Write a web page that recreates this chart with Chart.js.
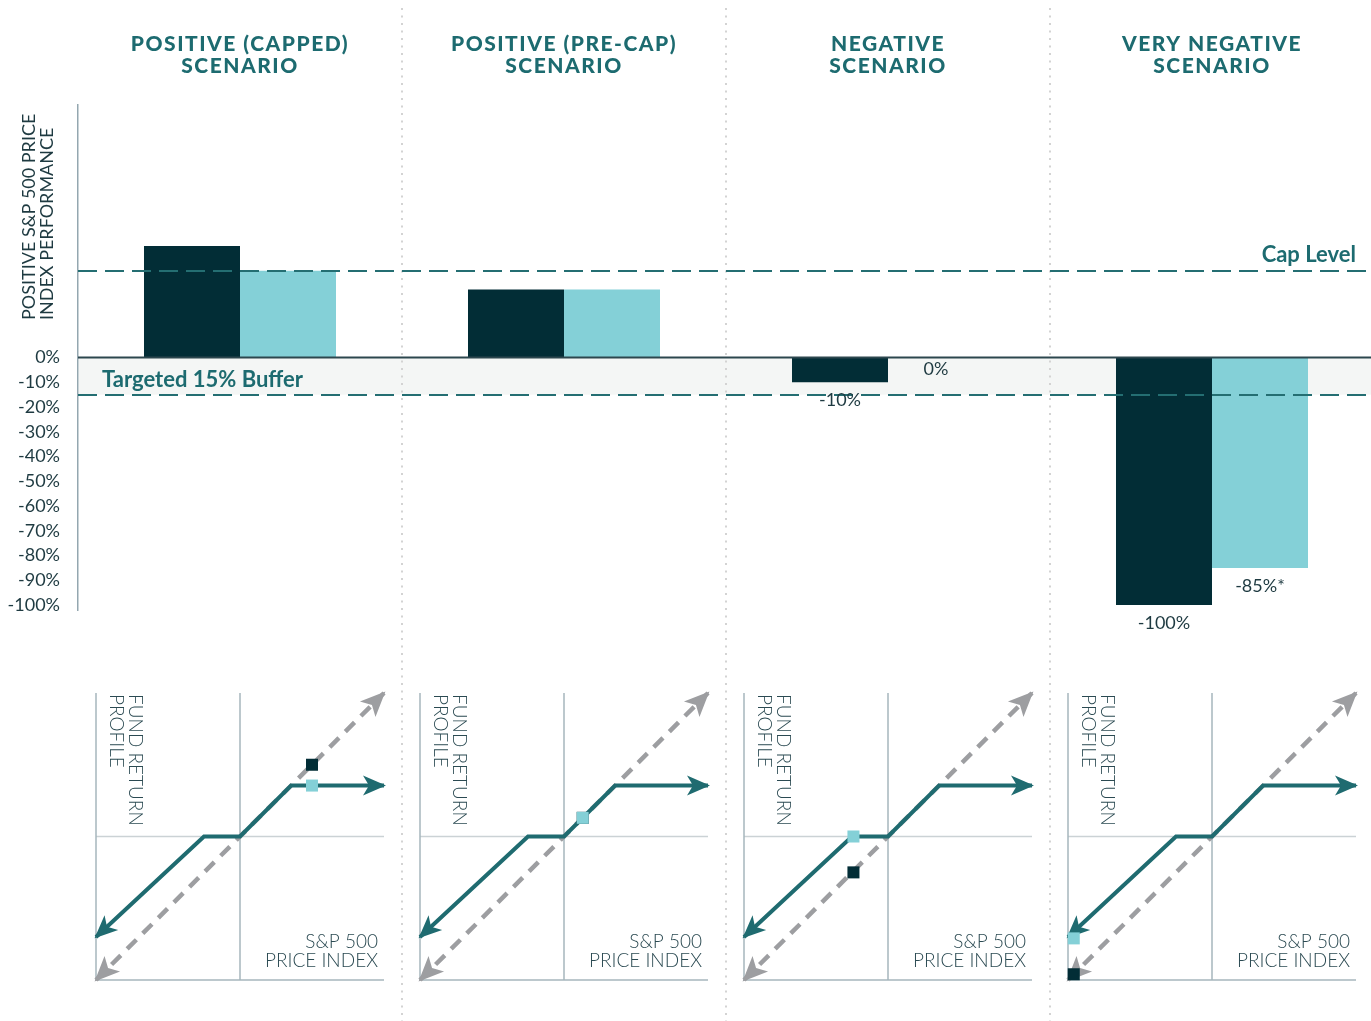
<!DOCTYPE html>
<html>
<head>
<meta charset="utf-8">
<title>Buffer scenarios</title>
<script src="https://cdn.jsdelivr.net/npm/chart.js@4.4.1/dist/chart.umd.min.js"></script>
<style>
    html, body { margin: 0; padding: 0; background: #fff; overflow: hidden; }
    #wrap { position: relative; width: 1371px; height: 1021px; overflow: hidden; }
    #scenario_chart { position: absolute; left: 0; top: 0; }
    .profile { position: absolute; top: 673px; }
</style>
</head>
<body>
<div id="wrap">
    <canvas id="scenario_chart" width="1375" height="1021"></canvas>
    <canvas class="profile" id="profile_0" width="328" height="327"></canvas>
    <canvas class="profile" id="profile_1" width="328" height="327"></canvas>
    <canvas class="profile" id="profile_2" width="328" height="327"></canvas>
    <canvas class="profile" id="profile_3" width="328" height="327"></canvas>
</div>
<script>
// top chart data
const scenarios = [
    ['POSITIVE (CAPPED)', 'SCENARIO'],
    ['POSITIVE (PRE-CAP)', 'SCENARIO'],
    ['NEGATIVE', 'SCENARIO'],
    ['VERY NEGATIVE', 'SCENARIO']
];
const indexReturn = [45, 27.5, -10, -100];
const fundReturn = [35, 27.5, 0, -85];
const indexLabels = ['', '', '-10%', '-100%'];
const fundLabels = ['', '', '0%', '-85%*'];
const yTicks = [0, -10, -20, -30, -40, -50, -60, -70, -80, -90, -100];
const capLevel = 35;
const bufferLevel = -15;

// bottom profile data (index move on x, fund result on y)
const indexLine = [{x: -1, y: -1}, {x: 1, y: 1}];
const fundLine = [{x: -1, y: -0.7}, {x: -0.25, y: 0}, {x: 0, y: 0}, {x: 0.355, y: 0.355}, {x: 1, y: 0.355}];
const indexPoints = [{x: 0.5, y: 0.5}, {x: 0.13, y: 0.13}, {x: -0.24, y: -0.25}, {x: -0.96, y: -0.96}];
const fundPoints = [{x: 0.5, y: 0.355}, {x: 0.13, y: 0.13}, {x: -0.24, y: 0}, {x: -0.96, y: -0.71}];

const DARK = '#022d36';
const LIGHT = '#84d0d7';
const TEAL = '#1d6b70';
const TEXT = '#1e3a41';

window.onload = function(){

    // decorations of the scenario chart
    const scenarioDecor = {
        id: 'scenarioDecor',
        beforeDatasetsDraw(chart) {
            const {ctx, chartArea, scales: {x, y}} = chart;
            const y0 = y.getPixelForValue(0);
            const yb = y.getPixelForValue(bufferLevel);
            ctx.save();
            ctx.fillStyle = '#f4f6f5';
            ctx.fillRect(chartArea.left + 1, y0, chartArea.right - chartArea.left, yb - y0);

            // dotted separators between scenarios
            ctx.strokeStyle = '#d3d3d3';
            ctx.lineWidth = 2;
            ctx.setLineDash([2, 5.5]);
            for (let i = 1; i < chart.data.labels.length; i++) {
                const sx = Math.round((x.getPixelForValue(i - 1) + x.getPixelForValue(i)) / 2);
                ctx.beginPath();
                ctx.moveTo(sx, 8);
                ctx.lineTo(sx, 1021);
                ctx.stroke();
            }
            ctx.restore();
        },
        afterDatasetsDraw(chart) {
            const {ctx, chartArea, scales: {x, y}} = chart;
            const y0 = y.getPixelForValue(0);
            ctx.save();

            // zero line
            ctx.strokeStyle = '#2c474e';
            ctx.lineWidth = 2;
            ctx.beginPath();
            ctx.moveTo(chartArea.left, y0);
            ctx.lineTo(chartArea.right, y0);
            ctx.stroke();

            // cap and buffer lines
            ctx.strokeStyle = '#246e72';
            ctx.lineWidth = 2;
            ctx.setLineDash([19, 8]);
            [capLevel, bufferLevel].forEach(function(v){
                const py = Math.round(y.getPixelForValue(v));
                ctx.beginPath();
                ctx.moveTo(chartArea.left, py);
                ctx.lineTo(chartArea.right, py);
                ctx.stroke();
            });
            ctx.setLineDash([]);

            ctx.fillStyle = TEAL;
            ctx.font = 'bold 22px Lato';
            ctx.textBaseline = 'alphabetic';
            ctx.textAlign = 'right';
            ctx.fillText('Cap Level', 1356, y.getPixelForValue(capLevel) - 9);
            ctx.textAlign = 'left';
            ctx.fillText('Targeted 15% Buffer', 102, y0 + 29);

            // value labels under the bars
            ctx.fillStyle = TEXT;
            ctx.font = '18px Lato';
            ctx.textAlign = 'center';
            ctx.textBaseline = 'middle';
            chart.data.datasets.forEach(function(ds, d){
                chart.getDatasetMeta(d).data.forEach(function(bar, i){
                    const txt = ds.valueLabels[i];
                    if (!txt) return;
                    const off = ds.data[i] === 0 ? 12 : 18;
                    ctx.fillText(txt, bar.x, bar.y + off);
                });
            });

            // scenario titles
            ctx.fillStyle = TEAL;
            ctx.font = '900 21px Lato';
            ctx.letterSpacing = '1.5px';
            ctx.textBaseline = 'alphabetic';
            chart.data.labels.forEach(function(lines, i){
                const cx = x.getPixelForValue(i);
                ctx.fillText(lines[0], cx, 51);
                ctx.fillText(lines[1], cx, 73);
            });
            ctx.letterSpacing = '0px';

            // y title, only beside the positive side
            ctx.fillStyle = TEXT;
            ctx.font = '18px Lato';
            ctx.textAlign = 'left';
            ctx.textBaseline = 'middle';
            ctx.translate(29, 320);
            ctx.rotate(-Math.PI / 2);
            ctx.fillText('POSITIVE S&P 500 PRICE', 0, 0);
            ctx.fillText('INDEX PERFORMANCE', 0, 18);
            ctx.restore();
        }
    };

    const ctx = document.getElementById('scenario_chart');
    const myChart = new Chart(ctx, {
        type: 'bar',
        data: {
            labels: scenarios,
            datasets: [{
                label: 'S&P 500 Price Index',
                data: indexReturn,
                backgroundColor: DARK,
                valueLabels: indexLabels,
                categoryPercentage: 0.5926,
                barPercentage: 1
            },
            {
                label: 'Fund',
                data: fundReturn,
                backgroundColor: LIGHT,
                valueLabels: fundLabels,
                categoryPercentage: 0.5926,
                barPercentage: 1
            }]
        },
        options: {
            responsive: false,
            animation: false,
            events: [],
            layout: { padding: { top: 105, right: 1, bottom: 411, left: 0 } },
            plugins: { legend: { display: false }, tooltip: { enabled: false } },
            scales: {
                x: { display: false },
                y: {
                    min: -102,
                    max: 102,
                    afterBuildTicks: function(axis){ axis.ticks = yTicks.map(function(v){ return {value: v}; }); },
                    afterFit: function(axis){ axis.width = 78; },
                    grid: { display: false, drawTicks: false },
                    border: { display: true, color: '#94a7b0', width: 1.5 },
                    ticks: {
                        autoSkip: false,
                        padding: 18,
                        color: TEXT,
                        font: { family: 'Lato', size: 18 },
                        callback: function(v){ return v + '%'; }
                    }
                }
            }
        },
        plugins: [scenarioDecor]
    });

    // arrow head with its tip just past the end point
    function drawArrow(c, from, to, color, L, W){
        const dx = to.x - from.x, dy = to.y - from.y;
        const len = Math.hypot(dx, dy);
        const ux = dx / len, uy = dy / len;
        const tx = to.x + ux * 2, ty = to.y + uy * 2;
        const N = 6;
        c.save();
        c.fillStyle = color;
        c.beginPath();
        c.moveTo(tx, ty);
        c.lineTo(tx - ux * L - uy * W, ty - uy * L + ux * W);
        c.lineTo(tx - ux * (L - N), ty - uy * (L - N));
        c.lineTo(tx - ux * L + uy * W, ty - uy * L - ux * W);
        c.closePath();
        c.fill();
        c.restore();
    }

    const profileDecor = {
        id: 'profileDecor',
        beforeDatasetsDraw(chart) {
            const {ctx, chartArea: a, scales: {x, y}} = chart;
            const x0 = x.getPixelForValue(0), y0 = y.getPixelForValue(0);
            const xl = x.getPixelForValue(-1), yl = y.getPixelForValue(-1);
            ctx.save();
            ctx.lineWidth = 1.5;
            ctx.strokeStyle = '#cbd2d5';
            ctx.beginPath();
            ctx.moveTo(a.left, y0); ctx.lineTo(a.right, y0);
            ctx.stroke();
            ctx.strokeStyle = '#a6b6bd';
            ctx.beginPath();
            ctx.moveTo(xl, a.top); ctx.lineTo(xl, yl); ctx.lineTo(a.right, yl);
            ctx.moveTo(x0, a.top); ctx.lineTo(x0, yl);
            ctx.stroke();

            ctx.fillStyle = '#2b4a52';
            ctx.font = '300 19px Lato';
            ctx.textAlign = 'right';
            ctx.textBaseline = 'alphabetic';
            ctx.fillText('S&P 500', a.right - 6, a.bottom - 32);
            ctx.fillText('PRICE INDEX', a.right - 6, a.bottom - 13);

            ctx.textAlign = 'left';
            ctx.textBaseline = 'middle';
            ctx.translate(a.left + 39, a.top + 1);
            ctx.rotate(Math.PI / 2);
            ctx.fillText('FUND RETURN', 0, 0);
            ctx.fillText('PROFILE', 0, 19);
            ctx.restore();
        },
        afterDatasetDraw(chart, args) {
            const ds = chart.data.datasets[args.index];
            if (!ds.arrowColor) return;
            const pts = args.meta.data;
            const n = pts.length;
            drawArrow(chart.ctx, pts[1], pts[0], ds.arrowColor, ds.arrowSize[0], ds.arrowSize[1]);
            drawArrow(chart.ctx, pts[n - 2], pts[n - 1], ds.arrowColor, ds.arrowSize[0], ds.arrowSize[1]);
        }
    };

    // one payoff profile under each scenario
    const xs = myChart.scales.x;
    scenarios.forEach(function(s, i){
        const cv = document.getElementById('profile_' + i);
        cv.style.left = Math.round(xs.getPixelForValue(i) - 164) + 'px';
        new Chart(cv, {
            type: 'scatter',
            data: {
                datasets: [{
                    data: [fundPoints[i]],
                    pointStyle: 'rect',
                    pointRadius: 8.5,
                    pointBorderWidth: 0,
                    backgroundColor: LIGHT,
                    clip: false
                },
                {
                    data: [indexPoints[i]],
                    pointStyle: 'rect',
                    pointRadius: 8.5,
                    pointBorderWidth: 0,
                    backgroundColor: DARK,
                    clip: false
                },
                {
                    data: fundLine,
                    showLine: true,
                    borderColor: '#1f6b70',
                    borderWidth: 4,
                    pointRadius: 0,
                    arrowColor: '#1f6b70',
                    arrowSize: [23, 10],
                    clip: false
                },
                {
                    data: indexLine,
                    showLine: true,
                    borderColor: '#9d9ea1',
                    borderWidth: 4.5,
                    borderDash: [13, 9],
                    pointRadius: 0,
                    arrowColor: '#9d9ea1',
                    arrowSize: [25, 11],
                    clip: false
                }]
            },
            options: {
                responsive: false,
                animation: false,
                events: [],
                layout: { padding: 20 },
                plugins: { legend: { display: false }, tooltip: { enabled: false } },
                scales: {
                    x: { type: 'linear', min: -1, max: 1, display: false },
                    y: { type: 'linear', min: -1, max: 1, display: false }
                }
            },
            plugins: [profileDecor]
        });
    });
}
</script>
</body>
</html>
